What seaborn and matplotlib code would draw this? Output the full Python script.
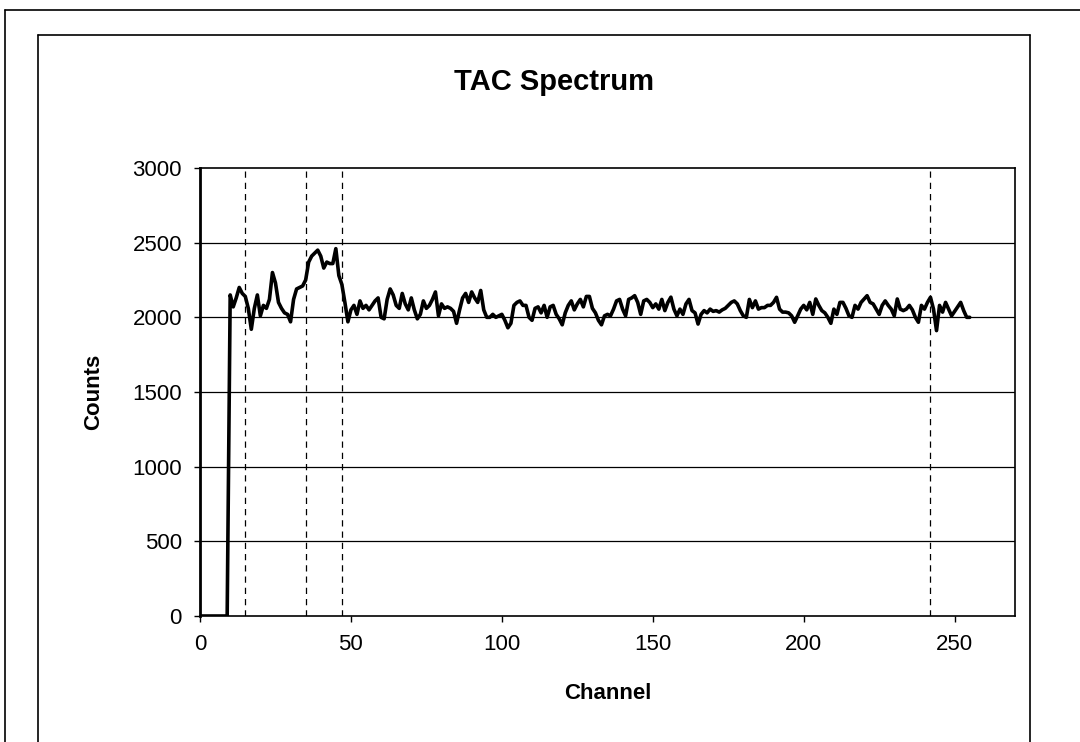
import numpy as np
import pandas as pd
import matplotlib
matplotlib.use('Agg')
import matplotlib.pyplot as plt
import seaborn as sns
from matplotlib.lines import Line2D

# TAC spectrum counts per channel
counts_0_49 = [0, 0, 0, 0, 0, 0, 0, 0, 0, 0,
               2150, 2070, 2130, 2200, 2160, 2140, 2060, 1920, 2060, 2150,
               2010, 2080, 2060, 2120, 2300, 2230, 2100, 2060, 2030, 2020,
               1970, 2120, 2190, 2200, 2210, 2250, 2370, 2410, 2430, 2450,
               2410, 2330, 2370, 2360, 2360, 2460, 2280, 2220, 2100, 1970]
counts_50_99 = [2050, 2080, 2020, 2110, 2060, 2080, 2050, 2080, 2110, 2130,
                2000, 1990, 2120, 2190, 2150, 2080, 2060, 2160, 2090, 2050,
                2130, 2050, 1990, 2020, 2110, 2060, 2080, 2120, 2170, 2010,
                2090, 2060, 2070, 2060, 2040, 1960, 2050, 2130, 2160, 2100,
                2170, 2130, 2100, 2180, 2050, 2000, 2000, 2020, 2000, 2010]
counts_100_149 = [2020, 1980, 1930, 1960, 2080, 2100, 2110, 2080, 2080, 2000,
                  1980, 2060, 2070, 2030, 2080, 2000, 2070, 2080, 2020, 1990,
                  1950, 2030, 2080, 2110, 2050, 2090, 2120, 2070, 2140, 2140,
                  2060, 2030, 1980, 1950, 2010, 2020, 2010, 2055, 2110, 2120,
                  2055, 2010, 2120, 2130, 2145, 2100, 2020, 2110, 2120, 2100]
counts_150_199 = [2065, 2090, 2055, 2120, 2045, 2100, 2135, 2055, 2010, 2055,
                  2020, 2090, 2120, 2045, 2030, 1955, 2020, 2045, 2030, 2055,
                  2040, 2045, 2035, 2050, 2060, 2080, 2100, 2110, 2090, 2045,
                  2010, 2000, 2120, 2065, 2110, 2055, 2065, 2065, 2080, 2080,
                  2100, 2134, 2055, 2035, 2035, 2030, 2010, 1967, 2010, 2055]
counts_200_255 = [2080, 2050, 2100, 2020, 2123, 2080, 2045, 2030, 2000, 1960,
                  2055, 2020, 2100, 2100, 2060, 2010, 2000, 2080, 2055, 2100,
                  2123, 2145, 2100, 2090, 2055, 2020, 2080, 2110, 2080, 2055,
                  2010, 2123, 2055, 2045, 2055, 2080, 2050, 2000, 1967, 2080,
                  2055, 2100, 2134, 2055, 1911, 2080, 2035, 2100, 2055, 2010,
                  2040, 2070, 2100, 2045, 2000, 2000]

counts = counts_0_49 + counts_50_99 + counts_100_149 + counts_150_199 + counts_200_255
channels = list(range(len(counts)))

# region-of-interest markers
marker_channels = [15, 35, 47, 242]

df = pd.DataFrame({'Channel': channels, 'Counts': counts})

sns.set_style('white')
plt.rcParams['font.family'] = ['Liberation Sans', 'DejaVu Sans']
plt.rcParams['text.color'] = 'black'
plt.rcParams['axes.labelcolor'] = 'black'
plt.rcParams['xtick.color'] = 'black'
plt.rcParams['ytick.color'] = 'black'

fig = plt.figure(figsize=(10.8, 7.42), dpi=100)
ax = fig.add_axes([200 / 1080, 1 - 616 / 742, 815 / 1080, 448 / 742])

for yv in range(500, 3000, 500):
    ax.axhline(yv, color='black', lw=0.9, zorder=1)
for xv in marker_channels:
    ax.axvline(xv, color='black', lw=0.9, ls=(0, (5, 4)), zorder=1)

sns.lineplot(data=df, x='Channel', y='Counts', color='black', lw=2.6, ax=ax, zorder=3)

ax.set_xlim(0, 270)
ax.set_ylim(0, 3000)
ax.set_xticks(range(0, 251, 50))
ax.set_yticks(range(0, 3001, 500))
ax.tick_params(axis='both', labelsize=16, direction='out', length=4, width=1,
               color='black', labelcolor='black', pad=9, bottom=True, left=True)
for s in ax.spines.values():
    s.set_color('black')
    s.set_linewidth(1.2)
ax.spines['left'].set_linewidth(2)

ax.set_xlabel('Channel', fontsize=16, fontweight='bold', labelpad=20, color='black')
ax.set_ylabel('Counts', fontsize=16, fontweight='bold', labelpad=20, color='black')
fig.text(0.513, 1 - 82 / 742, 'TAC Spectrum', fontsize=21, fontweight='bold',
         ha='center', va='center', color='black')

# chart frame and page border
frame = dict(color='black', lw=1.2, transform=fig.transFigure)
fig.add_artist(Line2D([38 / 1080, 1030 / 1080], [1 - 35 / 742, 1 - 35 / 742], **frame))
fig.add_artist(Line2D([38 / 1080, 38 / 1080], [1 - 35 / 742, 0], **frame))
fig.add_artist(Line2D([1030 / 1080, 1030 / 1080], [1 - 35 / 742, 0], **frame))
fig.add_artist(Line2D([5 / 1080, 1], [1 - 10 / 742, 1 - 10 / 742], **frame))
fig.add_artist(Line2D([5 / 1080, 5 / 1080], [1 - 10 / 742, 0], **frame))

fig.savefig('out.png', dpi=100)
